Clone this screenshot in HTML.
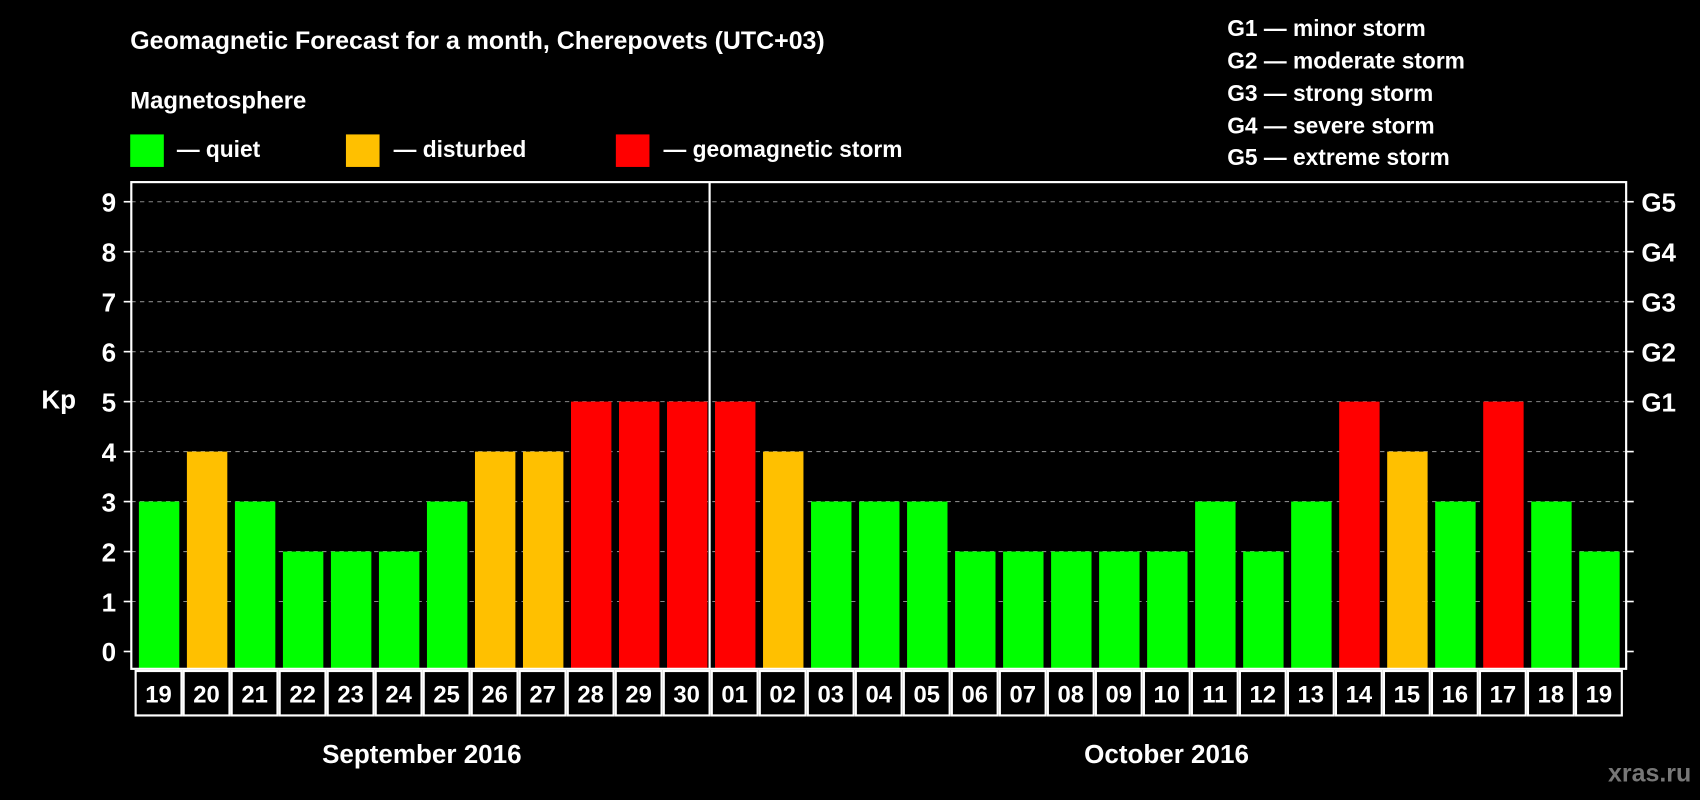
<!DOCTYPE html>
<html><head><meta charset="utf-8">
<style>
html,body{margin:0;padding:0;background:#000;width:1700px;height:800px;overflow:hidden}
svg{display:block}
text{font-family:"Liberation Sans",Arial,sans-serif;font-weight:bold;fill:#fff}
</style></head>
<body>
<svg id="chart" width="1700" height="800" viewBox="0 0 1568 738" xmlns="http://www.w3.org/2000/svg">
<rect width="1568" height="738" fill="#000"/>
<text x="120" y="45" font-size="23">Geomagnetic Forecast for a month, Cherepovets (UTC+03)</text>
<text x="120" y="100" font-size="22">Magnetosphere</text>
<g>
<rect x="120" y="124" width="31" height="30" fill="#00ff00"/>
<text x="163" y="145" font-size="21">— quiet</text>
<rect x="319" y="124" width="31" height="30" fill="#ffc000"/>
<text x="363" y="145" font-size="21">— disturbed</text>
<rect x="568" y="124" width="31" height="30" fill="#ff0000"/>
<text x="612" y="145" font-size="21">— geomagnetic storm</text>
</g>
<g font-size="21">
<text x="1132" y="33">G1 — minor storm</text>
<text x="1132" y="63">G2 — moderate storm</text>
<text x="1132" y="93">G3 — strong storm</text>
<text x="1132" y="123">G4 — severe storm</text>
<text x="1132" y="152">G5 — extreme storm</text>
</g>
<text x="38" y="377" font-size="24">Kp</text>
<g id="plot"></g>
<text x="389" y="704" font-size="24" text-anchor="middle">September 2016</text>
<text x="1076" y="704" font-size="24" text-anchor="middle">October 2016</text>
<text x="1560" y="721" font-size="23" text-anchor="end" style="fill:#777">xras.ru</text>
</svg>
<script>
const days = ["19","20","21","22","23","24","25","26","27","28","29","30","01","02","03","04","05","06","07","08","09","10","11","12","13","14","15","16","17","18","19"];
const kpValues = [3,4,3,2,2,2,3,4,4,5,5,5,5,4,3,3,3,2,2,2,2,2,3,2,3,5,4,3,5,3,2];
const yTicks = [0,1,2,3,4,5,6,7,8,9];
const gLabels = [[5,"G1"],[6,"G2"],[7,"G3"],[8,"G4"],[9,"G5"]];
const monthBreakIndex = 12;

const NS="http://www.w3.org/2000/svg";
const plot=document.getElementById('plot');
const L=121,R=1500,T=168,B=617;
const x0=124,pitch=(1497-124)/days.length;
const y=v=>601-v*46.1;
const xs=i=>x0+i*pitch;
function mk(tag,attrs){const e=document.createElementNS(NS,tag);for(const k in attrs)e.setAttribute(k,attrs[k]);plot.appendChild(e);return e;}
function color(v){return v>=5?"#ff0000":v>=4?"#ffc000":"#00ff00";}

yTicks.forEach(v=>{
  if(v>0){const g=mk('line',{x1:L,x2:R,y1:y(v),y2:y(v),stroke:'#888','stroke-width':1,'stroke-dasharray':'4,4'});
  
  }
  const t1=mk('line',{x1:L-7,x2:L,y1:y(v),y2:y(v),stroke:'#fff','stroke-width':1.5});
  
  
  const t2=mk('line',{x1:R,x2:R+7,y1:y(v),y2:y(v),stroke:'#fff','stroke-width':1.5});
  
  
  const lb=mk('text',{x:L-14,y:y(v)+9,'font-size':24,'text-anchor':'end'});lb.textContent=v;
  
  
});
gLabels.forEach(([v,s])=>{
  const t=mk('text',{x:R+14,y:y(v)+9,'font-size':24});t.textContent=s;
  
  
});
kpValues.forEach((v,i)=>{
  const b=mk('rect',{x:xs(i)+4,y:y(v),width:pitch-7,height:B-y(v),fill:color(v)});
  
  
  const c=mk('rect',{x:xs(i)+1,y:B+2,width:pitch-2,height:41,fill:'none',stroke:'#fff','stroke-width':2});
  
  
  const t=mk('text',{x:xs(i)+pitch/2,y:B+31,'font-size':22,'text-anchor':'middle'});t.textContent=days[i];
  
  
});
const fr=mk('rect',{x:L,y:T,width:R-L,height:B-T,fill:'none',stroke:'#fff','stroke-width':2});


const sep=mk('line',{x1:xs(monthBreakIndex)-1,x2:xs(monthBreakIndex)-1,y1:T,y2:B,stroke:'#fff','stroke-width':2});


</script>
</body></html>
